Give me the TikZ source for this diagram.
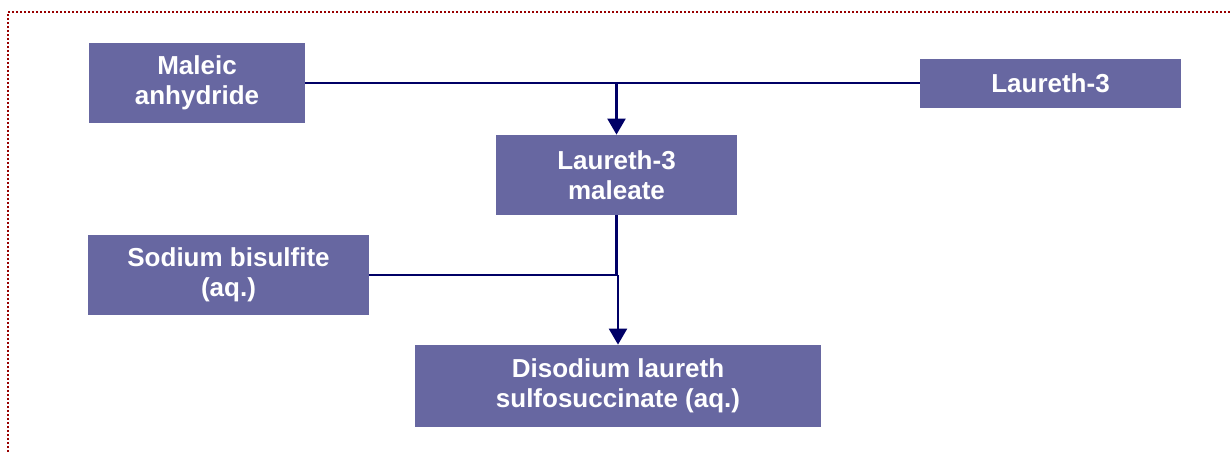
\documentclass[tikz,border=0pt]{standalone}
\usepackage{fontspec}
\setmainfont{Liberation Sans}
\usepackage{xcolor}
\usetikzlibrary{arrows.meta,positioning,calc}
\definecolor{boxfill}{HTML}{6767A1}
\definecolor{flowline}{HTML}{000066}
\definecolor{framered}{HTML}{990000}
\tikzset{
    stepbox/.style={fill=boxfill,text=white,align=center,inner sep=0pt,
        font=\fontsize{13}{15}\selectfont\bfseries},
    flow/.style={draw=flowline,line width=1.2pt},
    arr/.style={flow,-{Triangle[width=9pt,length=8pt]}},
    frame line/.style={framered,line width=1.2pt,dash pattern=on 1pt off 1pt},
}

\begin{document}
\begin{tikzpicture}[x=0.5pt,y=-0.5pt]
        \useasboundingbox (0,0) rectangle (1231,452);
        \draw[frame line] (8,452) -- (8,12) -- (1231,12);

        \node[stepbox,minimum width=108pt,minimum height=40pt] (maleic) at (197,83) {Maleic\\anhydride};
        \node[stepbox,minimum width=130.5pt,minimum height=24.5pt] (laureth) at (1050.5,83.5) {Laureth-3};
        \node[stepbox,minimum width=120.5pt,minimum height=40pt] (maleate) at (616.5,175) {Laureth-3\\maleate};
        \node[stepbox,minimum width=140.5pt,minimum height=40pt] (sodium) at (228.5,275) {Sodium bisulfite\\(aq.)};
        \node[stepbox,minimum width=203pt,minimum height=41pt] (disodium) at (618,386) {Disodium laureth\\sulfosuccinate (aq.)};

        \coordinate (top join) at (maleate.north |- maleic.east);
        \coordinate (low join) at (maleate.south |- sodium.east);

        \draw[flow] (maleic.east) -- (top join) -- (top join -| laureth.west);
        \draw[arr] (top join) -- (maleate.north);
        \draw[flow] (maleate.south) -- (low join);
        \draw[flow] (sodium.east) -- (low join);
        \draw[arr] (low join -| disodium.north) -- (disodium.north);
\end{tikzpicture}
\end{document}
